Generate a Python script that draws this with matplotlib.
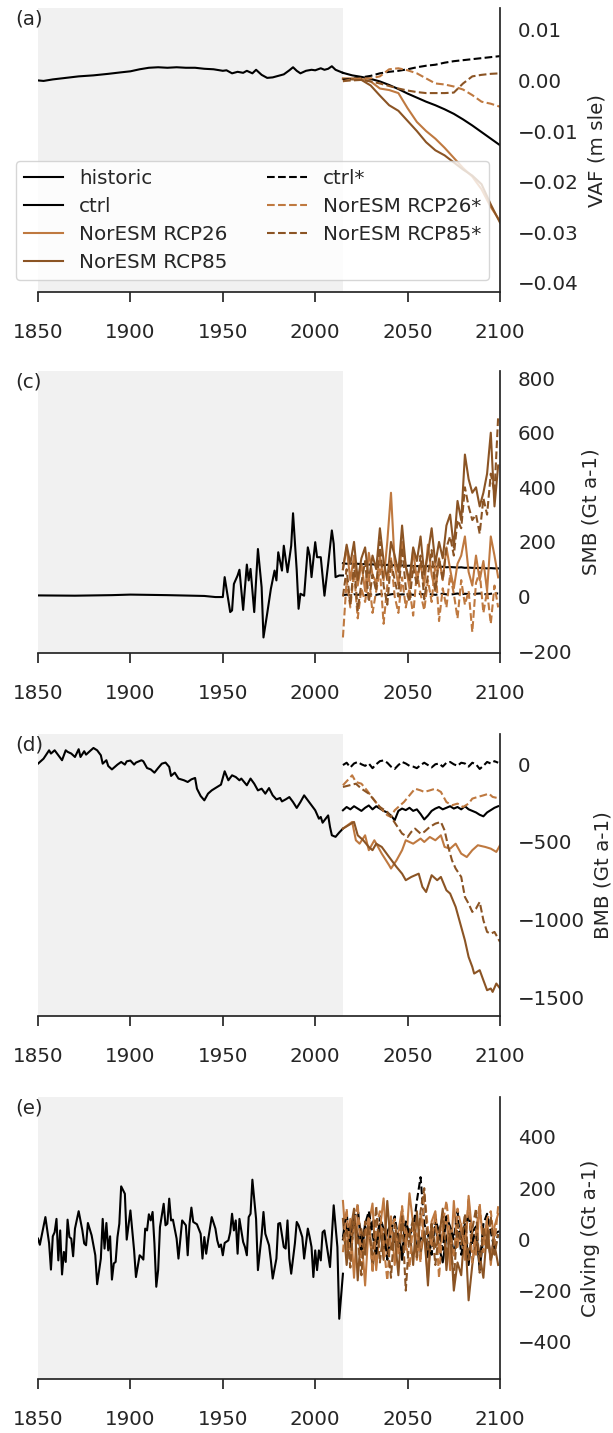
import numpy as np
import matplotlib
matplotlib.use('Agg')
import matplotlib.pyplot as plt

fs = 14.3
plt.rcParams['font.family'] = 'DejaVu Sans'
plt.rcParams['font.size'] = fs
plt.rcParams['text.color'] = '#262626'

# colours
c_ctrl = 'black'
c26 = '#bf7940'
c85 = '#8b5424'
shade = '#f1f1f1'
ink = '#262626'

# ---------------- VAF (m sle) ----------------
vaf_hist_yr = [1850, 1853, 1858, 1865, 1872, 1880, 1888, 1895, 1900, 1905,
               1910, 1915, 1920, 1925, 1930, 1935, 1940, 1945, 1950, 1952,
               1955, 1958, 1961, 1963, 1966, 1968, 1971, 1974, 1977, 1980,
               1983, 1986, 1988, 1990, 1992, 1995, 1998, 2000, 2003, 2005,
               2007, 2009, 2011, 2013, 2015]
vaf_hist = [0.0000, -0.0001, 0.0002, 0.0005, 0.0008, 0.0010, 0.0013, 0.0016, 0.0018, 0.0022,
            0.0025, 0.0026, 0.0025, 0.0026, 0.0025, 0.0025, 0.0023, 0.0022, 0.0019, 0.0020,
            0.0014, 0.0017, 0.0015, 0.0019, 0.0014, 0.0021, 0.0011, 0.0005, 0.0006, 0.0009,
            0.0012, 0.0020, 0.0026, 0.0019, 0.0014, 0.0019, 0.0021, 0.0020, 0.0024, 0.0021,
            0.0023, 0.0028, 0.0021, 0.0018, 0.0015]

vaf_fut_yr = [2015, 2020, 2025, 2030, 2035, 2040, 2045, 2050, 2055,
              2060, 2065, 2070, 2075, 2080, 2085, 2090, 2095, 2100]
vaf_ctrl = [0.0015, 0.0010, 0.0007, 0.0003, -0.0002, -0.0009, -0.0017, -0.0026, -0.0034,
            -0.0042, -0.0049, -0.0057, -0.0066, -0.0077, -0.0089, -0.0102, -0.0115, -0.0128]
vaf_ctrl_s = [0.0001, 0.0003, 0.0006, 0.0009, 0.0014, 0.0017, 0.0019, 0.0022, 0.0026,
              0.0029, 0.0031, 0.0035, 0.0038, 0.0040, 0.0042, 0.0044, 0.0046, 0.0048]
vaf_26 = [0.0004, 0.0004, 0.0003, -0.0002, -0.0016, -0.0019, -0.0025, -0.0055, -0.0082,
          -0.0100, -0.0115, -0.0133, -0.0153, -0.0173, -0.0190, -0.0215, -0.0250, -0.0278]
vaf_85 = [0.0003, 0.0002, 0.0001, -0.0010, -0.0030, -0.0049, -0.0060, -0.0080, -0.0100,
          -0.0122, -0.0138, -0.0148, -0.0162, -0.0176, -0.0188, -0.0205, -0.0245, -0.0281]
vaf_26_s = [-0.0002, 0.0003, 0.0004, 0.0004, 0.0008, 0.0022, 0.0024, 0.0020, 0.0014,
            0.0004, -0.0006, -0.0008, -0.0012, -0.0018, -0.0029, -0.0042, -0.0046, -0.0052]
vaf_85_s = [-0.0001, 0.0000, 0.0001, -0.0002, -0.0006, -0.0011, -0.0016, -0.0020, -0.0023,
            -0.0025, -0.0025, -0.0025, -0.0024, -0.0006, 0.0008, 0.0011, 0.0013, 0.0014]

# ---------------- SMB (Gt a-1) ----------------
smb_hist_yr = [1850, 1870, 1890, 1900, 1920, 1940, 1946, 1950, 1951, 1954,
               1955, 1956, 1958, 1959, 1961, 1963, 1964, 1965, 1967, 1969,
               1971, 1972, 1974, 1976, 1978, 1979, 1980, 1982, 1983, 1984,
               1985, 1987, 1988, 1990, 1991, 1992, 1994, 1996, 1997, 1998,
               2000, 2001, 2003, 2005, 2007, 2009, 2010, 2011, 2013, 2015]
smb_hist = [4, 3, 5, 7, 5, 2, -2, -2, 71, -57,
            -51, 46, 77, 98, -49, 117, 59, 101, -57, 174,
            34, -150, -63, 28, 95, 59, 162, 95, 186, 138,
            89, 186, 305, 95, -45, 10, 3, 180, 150, 71,
            199, 144, 144, 3, 119, 242, 193, 71, 77, 77]

fut_yr = np.arange(2015, 2100, 2)
smb_ctrl = [122, 120, 121, 119, 120, 118, 119, 117, 118, 116,
            117, 115, 116, 114, 115, 113, 114, 112, 113, 112,
            111, 112, 110, 111, 109, 110, 108, 109, 107, 108,
            107, 106, 107, 105, 106, 105, 104, 105, 104, 103,
            104, 103, 103]
smb_ctrl_s = [5, 7, 4, 8, 6, 9, 5, 7, 8, 6,
              9, 7, 5, 8, 10, 6, 8, 7, 9, 6,
              8, 10, 7, 9, 8, 6, 9, 10, 8, 7,
              9, 11, 8, 10, 9, 7, 10, 11, 9, 8,
              10, 12, 11]
smb_26 = [100, 180, 60, 150, 40, 120, 20, 160, 80, 50,
          150, 60, 200, 380, 120, 40, 200, 110, 30, 170,
          60, 120, 40, 190, 80, 20, 140, 60, 180, 100,
          30, 120, 150, 220, 90, 40, 150, 60, 130, 20,
          220, 150, 70]
smb_85 = [100, 190, 120, 200, 60, 140, 180, 60, 150, 100,
          250, 130, 60, 200, 150, 90, 260, 110, 60, 180,
          130, 220, 80, 160, 250, 120, 200, 140, 260, 300,
          180, 350, 280, 520, 430, 380, 400, 330, 380, 450,
          600, 330, 480]
smb_26_s = [-150, 60, -40, 90, -80, 30, -20, 80, -60, 20,
            100, -100, 40, 140, 0, -60, 70, -40, 30, -70,
            90, 10, -50, 60, -20, 120, -90, 30, -40, 80,
            10, -80, 60, -30, 20, -130, 50, 90, -60, 20,
            -100, 40, -40]
smb_85_s = [0, 100, -30, 120, -50, 50, 130, -20, 80, 20,
            200, 40, -30, 130, 60, 0, 180, 30, -20, 110,
            40, 150, -10, 80, 170, 20, 140, 60, 180, 220,
            150, 280, 250, 400, 330, 280, 300, 230, 360, 300,
            450, 380, 660]

# ---------------- BMB (Gt a-1) ----------------
bmb_hist_yr = [1850, 1853, 1856, 1857, 1859, 1861, 1863, 1865, 1866, 1868,
               1870, 1872, 1873, 1875, 1876, 1878, 1880, 1882, 1884, 1885,
               1887, 1888, 1890, 1893, 1895, 1897, 1898, 1900, 1902, 1903,
               1906, 1907, 1909, 1911, 1913, 1915, 1917, 1919, 1921, 1922,
               1924, 1926, 1929, 1931, 1933, 1935, 1936, 1938, 1940, 1942,
               1944, 1946, 1949, 1950, 1951, 1953, 1955, 1957, 1959, 1960,
               1963, 1965, 1967, 1969, 1971, 1973, 1975, 1977, 1979, 1981,
               1982, 1984, 1986, 1988, 1990, 1992, 1994, 1996, 1998, 2000,
               2002, 2003, 2004, 2007, 2008, 2009, 2011, 2013, 2015]
bmb_hist = [4, 36, 90, 69, 90, 58, 26, 90, 80, 69,
            47, 97, 47, 84, 62, 84, 105, 90, 58, 4,
            26, -11, -33, -2, 15, -2, 19, 24, -2, 11,
            26, 19, -24, -33, -54, -24, 4, 11, -17, -75,
            -54, -92, -103, -114, -97, -88, -157, -204, -232, -189,
            -168, -153, -131, -88, -45, -103, -71, -82, -103, -92,
            -135, -92, -125, -168, -157, -189, -153, -200, -226, -217,
            -239, -226, -211, -243, -281, -243, -200, -232, -264, -296,
            -350, -339, -376, -329, -403, -457, -467, -439, -414]

bmb_ctrl = [-296, -275, -290, -270, -285, -300, -280, -265, -290, -270,
            -285, -300, -310, -330, -360, -300, -285, -295, -280, -300,
            -290, -320, -355, -330, -300, -285, -275, -290, -280, -270,
            -285, -275, -290, -270, -290, -300, -310, -325, -335, -310,
            -295, -280, -270]
bmb_ctrl_s = [-5, 10, -20, 5, 15, 0, -10, 5, -25, 0,
              20, 25, 10, -15, -30, -5, 15, 5, -10, -15,
              -25, -5, 10, -5, -20, 0, 5, -15, 10, 15,
              0, -10, 10, 5, -15, 10, 0, -30, -10, 15,
              5, 20, 10]

bmb_26_yr = [2015, 2020, 2022, 2024, 2027, 2029, 2032, 2036, 2040, 2041,
             2044, 2047, 2049, 2053, 2057, 2059, 2062, 2065, 2068, 2070,
             2073, 2076, 2079, 2082, 2085, 2088, 2092, 2095, 2098, 2100]
bmb_26 = [-414, -371, -489, -511, -457, -553, -489, -575, -650, -671,
          -618, -553, -489, -511, -478, -500, -468, -489, -457, -532,
          -543, -511, -575, -597, -553, -521, -532, -543, -564, -521]
bmb_85_yr = [2015, 2021, 2023, 2026, 2029, 2031, 2033, 2036, 2040, 2044,
             2047, 2049, 2052, 2056, 2058, 2060, 2063, 2066, 2068, 2071,
             2073, 2076, 2078, 2081, 2083, 2085, 2086, 2089, 2091, 2093,
             2095, 2096, 2098, 2100]
bmb_85 = [-414, -371, -457, -489, -532, -553, -511, -532, -597, -661,
          -704, -746, -725, -704, -789, -822, -714, -746, -725, -811,
          -832, -918, -1004, -1133, -1240, -1304, -1347, -1325, -1390, -1454,
          -1443, -1465, -1411, -1443]
bmb_26_s_yr = [2015, 2020, 2022, 2025, 2028, 2030, 2034, 2039, 2041, 2043,
               2046, 2048, 2051, 2054, 2057, 2059, 2062, 2065, 2068, 2071,
               2074, 2077, 2080, 2083, 2085, 2088, 2091, 2094, 2096, 2100]
bmb_26_s = [-135, -71, -114, -125, -168, -200, -264, -328, -339, -296,
            -264, -243, -200, -157, -168, -178, -168, -157, -178, -243,
            -264, -253, -275, -253, -221, -210, -200, -189, -210, -221]
bmb_85_s_yr = [2015, 2022, 2025, 2029, 2032, 2035, 2039, 2041, 2044, 2047,
               2050, 2052, 2054, 2057, 2059, 2062, 2065, 2068, 2070, 2072,
               2074, 2076, 2079, 2081, 2083, 2085, 2087, 2089, 2091, 2093,
               2095, 2097, 2100]
bmb_85_s = [-146, -125, -157, -189, -232, -275, -307, -339, -393, -446,
            -468, -435, -414, -446, -435, -403, -382, -371, -425, -532,
            -618, -671, -725, -854, -897, -950, -929, -886, -1004, -1079,
            -1090, -1079, -1143]

# ---------------- Calving (Gt a-1) ----------------
calv_hist_yr = [1850, 1851, 1854, 1856, 1857, 1858, 1859, 1860, 1861, 1862,
                1863, 1864, 1865, 1866, 1867, 1868, 1869, 1870, 1872, 1874,
                1875, 1876, 1877, 1879, 1881, 1882, 1884, 1885, 1886, 1887,
                1888, 1889, 1890, 1891, 1892, 1893, 1894, 1895, 1897, 1898,
                1900, 1902, 1903, 1905, 1906, 1907, 1908, 1909, 1910, 1911,
                1912, 1913, 1914, 1915, 1916, 1918, 1919, 1920, 1921, 1922,
                1923, 1925, 1926, 1928, 1930, 1931, 1932, 1933, 1934, 1936,
                1938, 1939, 1940, 1941, 1942, 1944, 1946, 1947, 1948, 1949,
                1950, 1951, 1953, 1954, 1955, 1956, 1957, 1958, 1959, 1961,
                1962, 1963, 1964, 1965, 1966, 1968, 1969, 1971, 1972, 1973,
                1975, 1976, 1977, 1979, 1980, 1981, 1983, 1984, 1985, 1986,
                1987, 1989, 1990, 1991, 1993, 1994, 1996, 1997, 1998, 1999,
                2000, 2001, 2002, 2003, 2004, 2005, 2008, 2010, 2012, 2013, 2015]
calv_hist = [3, -21, 87, -15, -118, 12, 28, 80, -82, 35,
             -137, -49, -88, 77, 9, 3, -66, 42, 110, 35,
             -16, -23, 64, 16, -62, -175, -75, 80, -36, 64,
             -43, 12, -157, -94, -88, 9, 61, 207, 178, -1,
             113, -43, -147, -62, -69, -79, 42, 35, 98, 74,
             107, -16, -185, -120, 48, 139, 55, 61, 159, 74,
             77, 3, -75, 74, 55, -62, 61, 124, 68, 59,
             22, -75, 9, -56, -4, 87, 42, -4, -30, -20,
             -62, -14, -4, 28, 100, 35, 74, -56, 80, -10,
             -30, -62, 87, 100, 233, 80, -120, 16, 107, 22,
             -23, -82, -153, -75, 61, 64, -30, -36, 74, -75,
             -134, -16, 68, 55, 9, -75, 42, 9, -30, -147,
             -43, -120, -43, -82, 28, 35, -108, 133, -30, -310, -134]

calv_ctrl = [0, 60, -30, 80, 20, -60, 50, 10, 70, -20,
             40, -50, 30, 60, -10, 20, -80, 40, 10, 60,
             -40, 0, 30, -70, 20, 50, -30, -90, 10, 40,
             -60, 20, 0, 60, -100, 30, 50, -120, 10, 40,
             -80, 20, 30]
calv_ctrl_s = [10, 100, -20, 70, 130, -40, 60, 110, 20, -60,
               90, 40, -80, 30, 90, 0, -50, 70, 20, 40,
               150, 243, 60, 20, -60, 80, 30, -40, 90, 50,
               0, 110, -60, 30, 100, -20, 50, -100, 60, 100,
               30, -40, 20]
calv_26 = [150, -50, 80, -150, 100, 20, -180, 60, 140, -120,
           40, 160, -60, 90, -100, 30, 120, -40, 180, 60,
           -80, 100, 20, -150, 70, 110, -50, 30, 90, -120,
           150, -30, 60, -80, 170, 20, -60, 130, -20, 80,
           -100, 50, 100]
calv_85 = [80, -100, 30, 120, -160, 40, -60, 100, -120, 10,
           60, -80, 150, -40, 20, -140, 80, -20, 40, -100,
           110, -60, 30, -180, 60, -30, 0, 120, -120, 40,
           -200, -90, -140, 50, -238, -100, 10, -60, -150, 40,
           -80, -20, -100]
calv_26_s = [-50, 120, -80, 60, 140, -100, 20, 90, -130, 50,
             110, -20, -160, 40, 80, -60, 130, 0, -110, 70,
             20, -90, 180, 40, -30, 100, -150, 60, 150, 10,
             -70, 120, 50, -40, 160, -90, 30, 140, -50, 80,
             110, -20, 130]
calv_85_s = [0, 40, -110, 90, 0, -140, 70, 30, -60, 130,
             -90, 40, 10, -150, 60, -30, 90, -200, 20, 80,
             -70, 110, 200, -40, 60, -100, 30, 90, -60, 20,
             -160, 60, -20, 100, -80, 40, 120, -130, 50, -40,
             90, -60, 20]

xticks = [1850, 1900, 1950, 2000, 2050, 2100]
lw = 1.5


def setup(ax, ylim, yticks, ylabels, ylabel, tag):
    ax.axvspan(1850, 2015, color=shade, lw=0, zorder=0)
    ax.set_xlim(1850, 2100)
    ax.set_ylim(*ylim)
    ax.set_xticks(xticks)
    ax.yaxis.tick_right()
    ax.yaxis.set_label_position('right')
    ax.set_yticks(yticks, labels=ylabels)
    for s in ['top', 'left']:
        ax.spines[s].set_visible(False)
    for s in ['right', 'bottom']:
        ax.spines[s].set_color(ink)
        ax.spines[s].set_linewidth(1.25)
    ax.tick_params(axis='x', length=7.5, width=1.25, pad=15, color=ink, labelcolor=ink)
    ax.tick_params(axis='y', length=0, pad=13, labelcolor=ink)
    ax.set_ylabel(ylabel, labelpad=6, color=ink)
    ax.text(-0.05, 0.995, tag, transform=ax.transAxes, ha='left', va='top', color=ink)


fig = plt.figure(figsize=(6.13, 14.33), dpi=100)
ax_a = fig.add_axes([0.062, 0.7962, 0.7537, 0.1982])
ax_c = fig.add_axes([0.062, 0.5443, 0.7537, 0.1968])
ax_d = fig.add_axes([0.062, 0.2910, 0.7537, 0.1968])
ax_e = fig.add_axes([0.062, 0.0377, 0.7537, 0.1968])

# (a) volume above flotation
ax = ax_a
ax.plot(vaf_hist_yr, vaf_hist, color=c_ctrl, lw=lw, label='historic')
ax.plot(vaf_fut_yr, vaf_ctrl, color=c_ctrl, lw=lw, label='ctrl')
ax.plot(vaf_fut_yr, vaf_26, color=c26, lw=lw, label='NorESM RCP26')
ax.plot(vaf_fut_yr, vaf_85, color=c85, lw=lw, label='NorESM RCP85')
ax.plot(vaf_fut_yr, vaf_ctrl_s, color=c_ctrl, lw=lw, ls='--', label='ctrl*')
ax.plot(vaf_fut_yr, vaf_26_s, color=c26, lw=lw, ls='--', label='NorESM RCP26*')
ax.plot(vaf_fut_yr, vaf_85_s, color=c85, lw=lw, ls='--', label='NorESM RCP85*')
setup(ax, (-0.0418, 0.0143), [-0.04, -0.03, -0.02, -0.01, 0.0, 0.01],
      ['\u22120.04', '\u22120.03', '\u22120.02', '\u22120.01', '0.00', '0.01'],
      'VAF (m sle)', '(a)')
leg = ax.legend(ncol=2, loc='lower left', bbox_to_anchor=(-0.0485, 0.042),
                borderaxespad=0, framealpha=0.8, edgecolor='0.8', fontsize=fs,
                labelspacing=0.45)

# (c) surface mass balance
ax = ax_c
ax.plot(smb_hist_yr, smb_hist, color=c_ctrl, lw=lw)
ax.plot(fut_yr, smb_ctrl, color=c_ctrl, lw=lw)
ax.plot(fut_yr, smb_26, color=c26, lw=lw)
ax.plot(fut_yr, smb_85, color=c85, lw=lw)
ax.plot(fut_yr, smb_ctrl_s, color=c_ctrl, lw=lw, ls='--')
ax.plot(fut_yr, smb_26_s, color=c26, lw=lw, ls='--')
ax.plot(fut_yr, smb_85_s, color=c85, lw=lw, ls='--')
setup(ax, (-207, 826), [-200, 0, 200, 400, 600, 800],
      ['\u2212200', '0', '200', '400', '600', '800'], 'SMB (Gt a-1)', '(c)')

# (d) basal mass balance
ax = ax_d
ax.plot(bmb_hist_yr, bmb_hist, color=c_ctrl, lw=lw)
ax.plot(fut_yr, bmb_ctrl, color=c_ctrl, lw=lw)
ax.plot(bmb_26_yr, bmb_26, color=c26, lw=lw)
ax.plot(bmb_85_yr, bmb_85, color=c85, lw=lw)
ax.plot(fut_yr, bmb_ctrl_s, color=c_ctrl, lw=lw, ls='--')
ax.plot(bmb_26_s_yr, bmb_26_s, color=c26, lw=lw, ls='--')
ax.plot(bmb_85_s_yr, bmb_85_s, color=c85, lw=lw, ls='--')
setup(ax, (-1620, 195), [-1500, -1000, -500, 0],
      ['\u22121500', '\u22121000', '\u2212500', '0'], 'BMB (Gt a-1)', '(d)')

# (e) calving
ax = ax_e
ax.plot(calv_hist_yr, calv_hist, color=c_ctrl, lw=lw)
ax.plot(fut_yr, calv_ctrl, color=c_ctrl, lw=lw)
ax.plot(fut_yr, calv_26, color=c26, lw=lw)
ax.plot(fut_yr, calv_85, color=c85, lw=lw)
ax.plot(fut_yr, calv_ctrl_s, color=c_ctrl, lw=lw, ls='--')
ax.plot(fut_yr, calv_26_s, color=c26, lw=lw, ls='--')
ax.plot(fut_yr, calv_85_s, color=c85, lw=lw, ls='--')
setup(ax, (-545, 556), [-400, -200, 0, 200, 400],
      ['\u2212400', '\u2212200', '0', '200', '400'], 'Calving (Gt a-1)', '(e)')

fig.savefig('out.png', dpi=100)
